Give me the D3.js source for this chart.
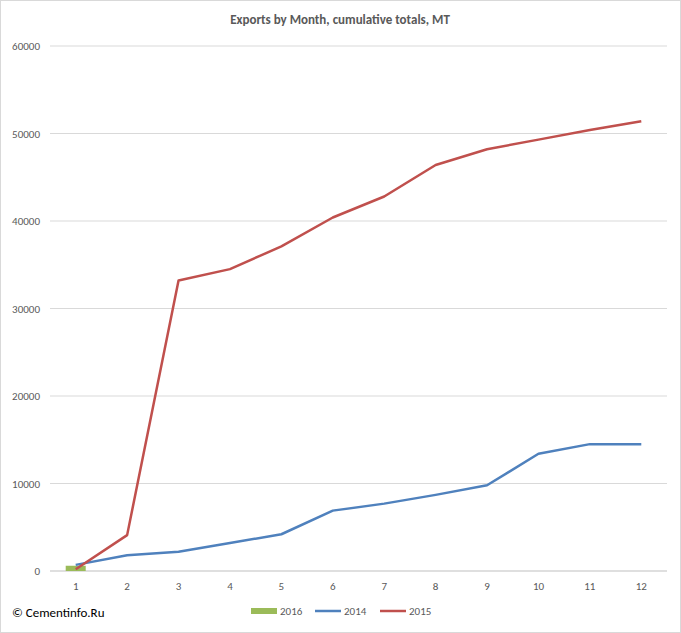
<!DOCTYPE html>
<html><head><meta charset="utf-8">
<script src="https://cdn.jsdelivr.net/npm/d3@7"></script>
<style>body{margin:0;background:#fff;font-family:Calibri,"Liberation Sans",Arial,sans-serif}</style>
</head><body><svg id="c" width="681" height="633"></svg>
<script>
const months = [1,2,3,4,5,6,7,8,9,10,11,12];
const s2016 = [600];
const s2014 = [700,1800,2200,3200,4200,6900,7700,8700,9800,13400,14500,14500];
const s2015 = [200,4100,33200,34500,37100,40400,42800,46400,48200,49300,50400,51400];
const yTicks = [0,10000,20000,30000,40000,50000,60000];

const svg = d3.select("#c");
svg.append("rect").attr("x",0.5).attr("y",0.5).attr("width",680).attr("height",632).attr("fill","#fff").attr("stroke","#d9d9d9");
const L=50,R=667,T=46,B=571;
const x = d3.scaleBand().domain(months).range([L,R]);
const y = d3.scaleLinear().domain([0,60000]).range([B,T]);
const cx = d=>x(d)+x.bandwidth()/2;

svg.append("g").selectAll("line").data(yTicks).join("line")
  .attr("x1",L).attr("x2",R).attr("y1",d=>y(d)).attr("y2",d=>y(d))
  .attr("stroke",d=>d===0?"#bfbfbf":"#d9d9d9");
svg.append("g").selectAll("text").data(yTicks).join("text")
  .attr("x",L-10).attr("y",d=>y(d)+4).attr("text-anchor","end")
  .attr("font-size",11).attr("fill","#595959").text(d=>d);
svg.append("g").selectAll("text").data(months).join("text")
  .attr("x",cx).attr("y",B+19).attr("text-anchor","middle")
  .attr("font-size",11).attr("fill","#595959").text(d=>d);

svg.selectAll(".bar").data(s2016).join("rect")
  .attr("x",(d,i)=>cx(months[i])-10).attr("width",20)
  .attr("y",d=>y(d)).attr("height",d=>B-y(d)).attr("fill","#9bbb59");

const line = d3.line().x((d,i)=>cx(months[i])).y(d=>y(d));
svg.append("path").attr("d",line(s2014)).attr("fill","none").attr("stroke","#4f81bd").attr("stroke-width",2.5).attr("stroke-linejoin","round");
svg.append("path").attr("d",line(s2015)).attr("fill","none").attr("stroke","#c0504d").attr("stroke-width",2.5).attr("stroke-linejoin","round");

svg.append("text").attr("x",340).attr("y",24).attr("text-anchor","middle")
  .attr("font-size",13).attr("font-weight","bold").attr("fill","#595959")
  .text("Exports by Month, cumulative totals, MT");

const leg = [{n:"2016",c:"#9bbb59",bar:true,x:251},{n:"2014",c:"#4f81bd",x:315},{n:"2015",c:"#c0504d",x:380}];
leg.forEach(l=>{
  if(l.bar) svg.append("rect").attr("x",l.x).attr("y",608).attr("width",26).attr("height",6).attr("fill",l.c);
  else svg.append("line").attr("x1",l.x).attr("x2",l.x+26).attr("y1",611).attr("y2",611).attr("stroke",l.c).attr("stroke-width",2.5);
  svg.append("text").attr("x",l.x+29).attr("y",615).attr("font-size",11).attr("fill","#595959").text(l.n);
});
svg.append("text").attr("x",12).attr("y",617).attr("font-size",13).attr("fill","#000").text("© Cementinfo.Ru");
</script></body></html>
